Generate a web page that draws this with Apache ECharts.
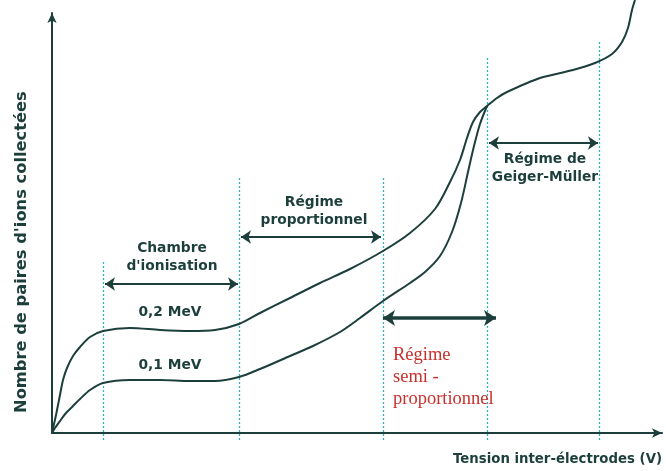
<!DOCTYPE html>
<html><head><meta charset="utf-8">
<script src="https://cdn.jsdelivr.net/npm/echarts@6/dist/echarts.min.js"></script>
<style>html,body{margin:0;padding:0;background:#fff}#c{width:666px;height:471px}</style>
</head><body><div id="c"></div>
<script>
// Curves: [tension, nombre de paires] (arbitrary units)
var curve02MeV = [[0,0],[4,18],[8,38],[11,53],[15,65],[21,77],[28,86],[38,96],[51,102],[78,105],[108,103],[138,102],[163,103],[187,109],[208,120],[238,135],[268,150],[298,164],[331,182],[358,200],[383,224],[398,251],[408,273],[415,295],[421,311],[428,321],[435,327],[445,335],[455,341],[488,355],[521,363],[543,370],[560,379],[570,391],[576,405],[580,423],[583,433]];
var curve01MeV = [[0,0],[3,5],[8,12],[14,20],[21,27],[28,34],[38,43],[51,50],[78,53],[108,53],[138,52],[163,52],[187,56],[208,64],[238,77],[261,87],[288,101],[308,115],[331,132],[358,150],[373,161],[388,177],[400,201],[409,230],[416,261],[422,287],[428,309],[435,327]];
// Regime boundaries (x) and top of each dotted line (y)
var boundaryX = [51, 187, 331, 435, 547];
var boundaryTop = [171, 257, 256, 375, 391];
// Double arrows: start x, end x, level y
var arrowStart = [53, 189, 437, 331];
var arrowEnd = [186, 329, 546, 444];
var arrowY = [149, 196, 290, 115];
var arrowWidth = [2, 2, 2, 3.5];
// Annotations
var annoText = ["Chambre\nd'ionisation", "Régime\nproportionnel", "Régime de\nGeiger-Müller", "0,2 MeV", "0,1 MeV"];
var annoX = [120, 262, 493, 118, 118];
var annoY = [176, 222, 265, 121, 68];
var semiText = "Régime\nsemi -\nproportionnel";
var semiX = 341, semiY = 56;

var ink = '#1c3f3c';
var chart = echarts.init(document.getElementById('c'));

var vlines = boundaryX.map(function(x, i){ return {coords: [[x, -7], [x, boundaryTop[i]]]}; });
var arrows = arrowStart.map(function(x, i){
  return {coords: [[x, arrowY[i]], [arrowEnd[i], arrowY[i]]], lineStyle: {width: arrowWidth[i]}, symbolSize: i === 3 ? 12 : 10};
});
var annos = annoText.map(function(t, i){ return {value: [annoX[i], annoY[i]], name: t}; });

chart.setOption({
  animation: false,
  grid: {left: 52, right: 4, top: 13, bottom: 38},
  xAxis: {type: 'value', min: 0, max: 610,
    axisLine: {symbol: ['none', 'arrow'], symbolSize: [7, 10], lineStyle: {color: ink, width: 2}},
    axisTick: {show: false}, axisLabel: {show: false}, splitLine: {show: false}},
  yAxis: {type: 'value', min: 0, max: 420,
    axisLine: {symbol: ['none', 'arrow'], symbolSize: [7, 10], lineStyle: {color: ink, width: 2}},
    axisTick: {show: false}, axisLabel: {show: false}, splitLine: {show: false}},
  graphic: [
    {type: 'text', rotation: Math.PI / 2, style: {text: "Nombre de paires d'ions collectées", font: 'bold 16.3px "DejaVu Sans"', fill: ink}, position: [14, 413]},
    {type: 'text', style: {text: 'Tension inter-électrodes (V)', font: 'bold 13.3px "DejaVu Sans"', fill: ink, textAlign: 'right', textVerticalAlign: 'middle'}, position: [662, 460]}
  ],
  series: [
    {type: 'lines', coordinateSystem: 'cartesian2d', clip: false, silent: true, symbol: 'none',
      lineStyle: {color: '#2fb3c2', width: 1.3, type: [2, 2], opacity: 1}, data: vlines, z: 1},
    {type: 'line', data: curve02MeV, symbol: 'none', smooth: 0.3, clip: false, lineStyle: {color: ink, width: 2}, z: 3},
    {type: 'line', data: curve01MeV, symbol: 'none', smooth: 0.3, clip: false, lineStyle: {color: ink, width: 2}, z: 3},
    {type: 'lines', coordinateSystem: 'cartesian2d', clip: false, symbol: ['arrow', 'arrow'], symbolSize: 10,
      lineStyle: {color: ink, width: 2, opacity: 1}, data: arrows, z: 4},
    {type: 'scatter', symbolSize: 0, clip: false, data: annos, z: 5, itemStyle: {opacity: 1},
      label: {show: true, position: 'inside', formatter: function(p){ return p.name; },
        fontFamily: 'DejaVu Sans', fontWeight: 'bold', fontSize: 13.8, color: ink, lineHeight: 18, align: 'center', verticalAlign: 'middle', opacity: 1}},
    {type: 'scatter', symbolSize: 0, clip: false, data: [{value: [semiX, semiY], name: semiText}], z: 5, itemStyle: {opacity: 1},
      label: {show: true, position: 'inside', formatter: function(p){ return p.name; },
        fontFamily: 'Liberation Serif', fontSize: 18.5, color: '#c8302c', lineHeight: 22, align: 'left', verticalAlign: 'middle', opacity: 1}}
  ]
});
</script></body></html>
